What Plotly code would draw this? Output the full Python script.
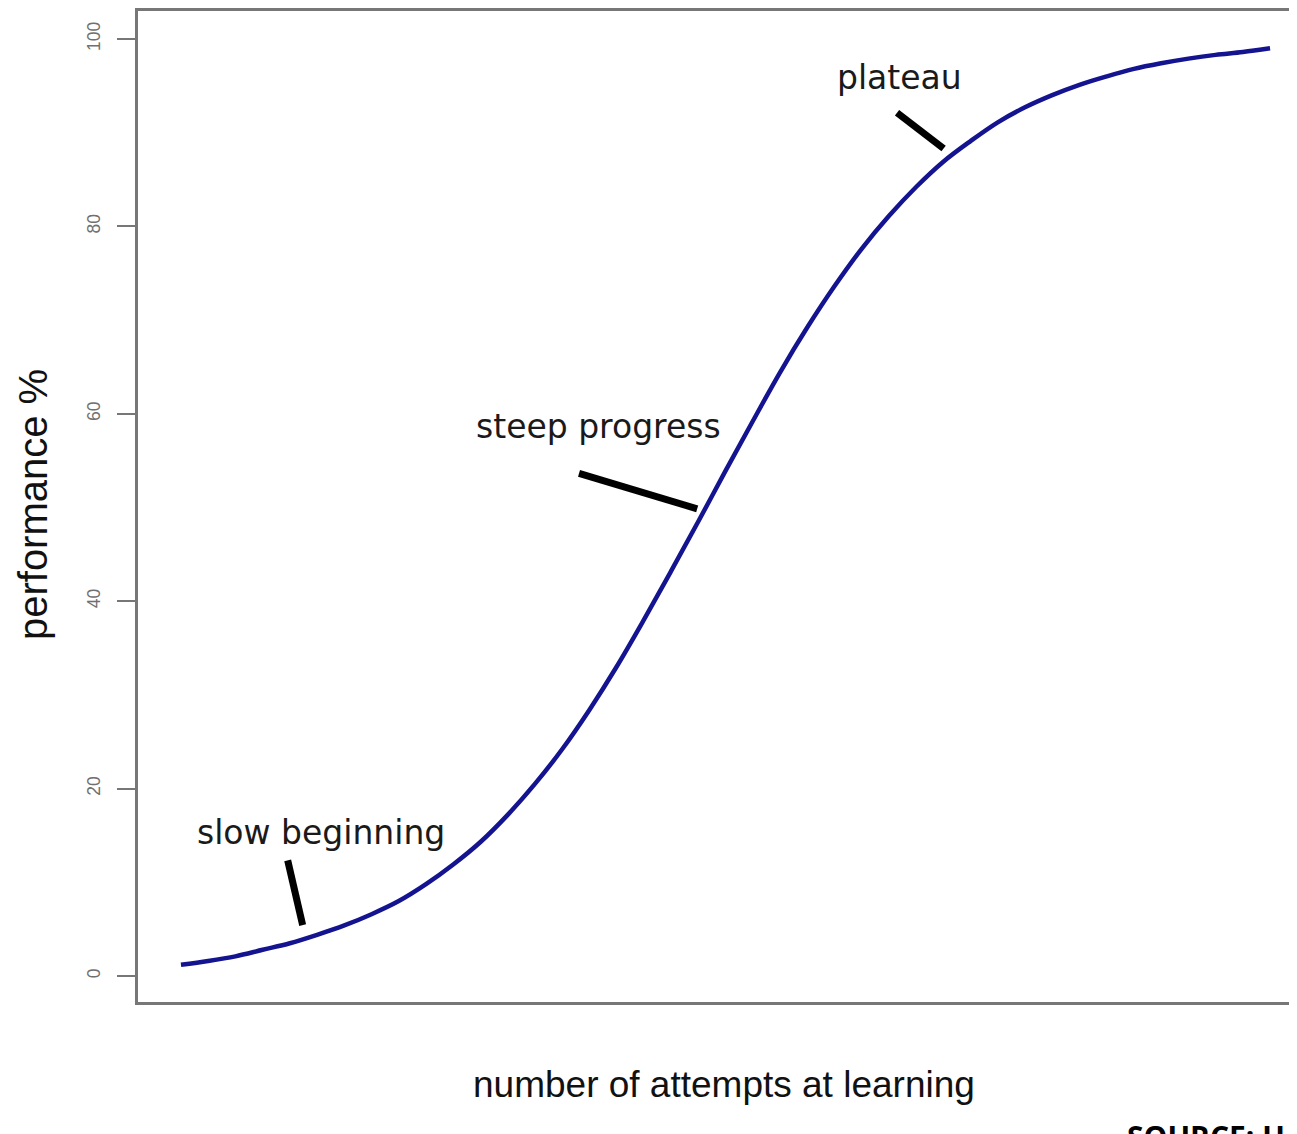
import plotly.graph_objects as go

# Data
attempts = list(range(0, 41))
performance = [1.2, 1.6, 2.1, 2.8, 3.5, 4.4, 5.4, 6.6, 8.0, 9.8,
               11.9, 14.3, 17.2, 20.5, 24.2, 28.4, 33.0, 38.0, 43.2, 48.5,
               53.9, 59.2, 64.4, 69.2, 73.6, 77.6, 81.1, 84.2, 86.9, 89.1,
               91.1, 92.7, 94.0, 95.1, 96.0, 96.8, 97.4, 97.9, 98.3, 98.6, 99.0]

y_ticks = [0, 20, 40, 60, 80, 100]
y_tick_labels = ["0", "20", "40", "60", "80", "100"]

label_texts = ["slow beginning", "steep progress", "plateau"]
label_x = [5.14, 15.35, 26.4]
label_y = [15.3, 58.6, 95.9]

pointer_x0 = [3.92, 14.62, 26.30]
pointer_y0 = [12.34, 53.65, 92.13]
pointer_x1 = [4.47, 18.96, 28.01]
pointer_y1 = [5.43, 49.86, 88.30]

fig = go.Figure()
fig.add_trace(go.Scatter(
    x=attempts, y=performance, mode="lines",
    line=dict(color="#141490", width=4.5, shape="spline"),
    showlegend=False, hoverinfo="skip"))

for x0, y0, x1, y1 in zip(pointer_x0, pointer_y0, pointer_x1, pointer_y1):
    fig.add_shape(type="line", xref="x", yref="y", x0=x0, y0=y0, x1=x1, y1=y1,
                  line=dict(color="black", width=7))

for t, x, y in zip(label_texts, label_x, label_y):
    fig.add_annotation(x=x, y=y, xref="x", yref="y", text=t, showarrow=False,
                       font=dict(family="DejaVu Sans", size=33, color="#1a1a1a"),
                       xanchor="center", yanchor="middle")

fig.add_annotation(xref="paper", yref="paper", x=0.506, y=-0.083,
                   text="number of attempts at learning", showarrow=False,
                   font=dict(family="Liberation Sans", size=37, color="#111111"),
                   xanchor="center", yanchor="middle")
fig.add_annotation(xref="paper", yref="paper", x=-0.091, y=0.502,
                   text="performance %", showarrow=False, textangle=-90,
                   font=dict(family="Liberation Sans", size=40, color="#111111"),
                   xanchor="center", yanchor="middle")
fig.add_annotation(xref="paper", yref="paper", x=0.852, y=-0.1127,
                   text="<b>SOURCE: U</b>", showarrow=False,
                   font=dict(family="Open Sans", size=30, color="black"),
                   xanchor="left", yanchor="top")

fig.update_xaxes(range=[-1.578, 40.99], showticklabels=False, ticks="",
                 showgrid=False, zeroline=False, showline=True, mirror=True,
                 linecolor="#777777", linewidth=2.5)
fig.update_yaxes(range=[-2.77, 102.98], tickvals=y_ticks, ticktext=y_tick_labels,
                 tickangle=-90, ticks="outside", ticklen=18, tickcolor="#777777",
                 tickwidth=1.5, tickfont=dict(family="Liberation Sans", size=17.5, color="#707070"),
                 showgrid=False, zeroline=False, showline=True, mirror=False,
                 linecolor="#777777", linewidth=2.5, ticklabelstandoff=10)

# page body has an 8px margin, so the figure is sized and offset to compensate
fig.update_layout(width=1289, height=1126, margin=dict(l=130, r=0, t=0, b=132),
                  plot_bgcolor="white", paper_bgcolor="white")

fig.write_html("out.html")
